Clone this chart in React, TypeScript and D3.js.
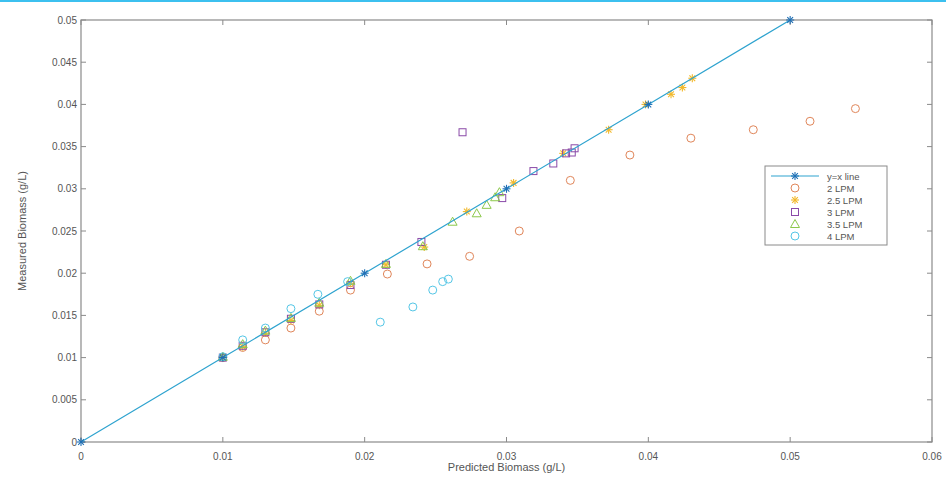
import React from "react";
import { scaleLinear, line } from "d3";

// ---- data ----
const xTicks = [0, 0.01, 0.02, 0.03, 0.04, 0.05, 0.06];
const yTicks = [0, 0.005, 0.01, 0.015, 0.02, 0.025, 0.03, 0.035, 0.04, 0.045, 0.05];
const xTickLabels = ["0", "0.01", "0.02", "0.03", "0.04", "0.05", "0.06"];
const yTickLabels = ["0", "0.005", "0.01", "0.015", "0.02", "0.025", "0.03", "0.035", "0.04", "0.045", "0.05"];

const identity = [0, 0.01, 0.02, 0.03, 0.04, 0.05];

const lpm2 = [
  [0.01, 0.01], [0.0114, 0.0112], [0.013, 0.0121], [0.0148, 0.0135], [0.0168, 0.0155],
  [0.019, 0.018], [0.0216, 0.0199], [0.0244, 0.0211], [0.0274, 0.022], [0.0309, 0.025],
  [0.0345, 0.031], [0.0387, 0.034], [0.043, 0.036], [0.0474, 0.037], [0.0514, 0.038],
  [0.0546, 0.0395],
];
const lpm25 = [
  [0.01, 0.01], [0.0114, 0.0113], [0.013, 0.0129], [0.0148, 0.0144], [0.0168, 0.0162],
  [0.019, 0.0188], [0.0215, 0.021], [0.0242, 0.0231], [0.0272, 0.0273], [0.0305, 0.0307],
  [0.034, 0.0342], [0.0372, 0.037], [0.0398, 0.04], [0.0416, 0.0412], [0.0424, 0.042],
  [0.0431, 0.0431],
];
const lpm3 = [
  [0.01, 0.01], [0.0114, 0.0114], [0.013, 0.013], [0.0148, 0.0146], [0.0168, 0.0163],
  [0.019, 0.0186], [0.0215, 0.021], [0.024, 0.0237], [0.0269, 0.0367], [0.0297, 0.0289],
  [0.0319, 0.0321], [0.0333, 0.033], [0.0342, 0.0342], [0.0346, 0.0343], [0.0348, 0.0348],
];
const lpm35 = [
  [0.01, 0.0101], [0.0114, 0.0116], [0.013, 0.0132], [0.0148, 0.0147], [0.0168, 0.0165],
  [0.019, 0.0191], [0.0215, 0.0211], [0.0241, 0.0232], [0.0262, 0.0261], [0.0279, 0.0271],
  [0.0286, 0.0281], [0.0292, 0.029], [0.0295, 0.0296],
];
const lpm4 = [
  [0.01, 0.0101], [0.0114, 0.0121], [0.013, 0.0135], [0.0148, 0.0158], [0.0167, 0.0175],
  [0.0188, 0.019], [0.0211, 0.0142], [0.0234, 0.016], [0.0248, 0.018], [0.0255, 0.019],
  [0.0259, 0.0193],
];

const legendLabels = ["y=x line", "2 LPM", "2.5 LPM", "3 LPM", "3.5 LPM", "4 LPM"];

////
const W = 946;
const H = 478;
const FONT = "'Liberation Sans', Arial, sans-serif";
const C = {
  frame: "#8a8a8a",
  text: "#555",
  line: "#2ea3cf",
  star: "#1f6fb5",
  o2: "#e0865a",
  s25: "#f2b82a",
  sq3: "#8a4aa8",
  tri35: "#8cc84a",
  o4: "#54c6e6",
};

const x = scaleLinear().domain([0, 0.06]).range([81, 932]);
const y = scaleLinear().domain([0, 0.05]).range([442, 20]);

// marker shapes
const Star = ({ cx, cy, color, r = 4 }) => (
  <g stroke={color} strokeWidth={1.1}>
    <line x1={cx - r} y1={cy} x2={cx + r} y2={cy} />
    <line x1={cx} y1={cy - r} x2={cx} y2={cy + r} />
    <line x1={cx - r * 0.72} y1={cy - r * 0.72} x2={cx + r * 0.72} y2={cy + r * 0.72} />
    <line x1={cx - r * 0.72} y1={cy + r * 0.72} x2={cx + r * 0.72} y2={cy - r * 0.72} />
  </g>
);
const Circle = ({ cx, cy, color }) => (
  <circle cx={cx} cy={cy} r={4} fill="none" stroke={color} strokeWidth={1} />
);
const Square = ({ cx, cy, color }) => (
  <rect x={cx - 3.5} y={cy - 3.5} width={7} height={7} fill="none" stroke={color} strokeWidth={1} />
);
const Tri = ({ cx, cy, color }) => (
  <path d={`M${cx},${cy - 4.5}L${cx + 4.5},${cy + 3.5}L${cx - 4.5},${cy + 3.5}Z`} fill="none" stroke={color} strokeWidth={1} />
);

const series = [
  { data: lpm2, M: Circle, color: C.o2 },
  { data: lpm25, M: Star, color: C.s25 },
  { data: lpm3, M: Square, color: C.sq3 },
  { data: lpm35, M: Tri, color: C.tri35 },
  { data: lpm4, M: Circle, color: C.o4 },
];

export default function App() {
  const idPath = line()
    .x((d) => x(d))
    .y((d) => y(d))(identity);
  const lx = 765;
  const ly = 166;
  return (
    <svg width={W} height={H} style={{ display: "block", position: "absolute", left: 0, top: 0 }} fontFamily={FONT}>
      <rect width={W} height={H} fill="#fff" />
      <line x1={0} x2={W} y1={1} y2={1} stroke="#3cc0ef" strokeWidth={2} />

      {/* frame */}
      <rect x={x(0)} y={y(0.05)} width={x(0.06) - x(0)} height={y(0) - y(0.05)} fill="none" stroke={C.frame} strokeWidth={1.2} />

      {/* ticks */}
      {xTicks.map((t, i) => (
        <g key={"x" + i}>
          <line x1={x(t)} x2={x(t)} y1={y(0)} y2={y(0) - 5} stroke={C.frame} />
          <line x1={x(t)} x2={x(t)} y1={y(0.05)} y2={y(0.05) + 5} stroke={C.frame} />
          <text x={x(t)} y={y(0) + 18} fontSize={10} fill={C.text} textAnchor="middle">
            {xTickLabels[i]}
          </text>
        </g>
      ))}
      {yTicks.map((t, i) => (
        <g key={"y" + i}>
          <line x1={x(0)} x2={x(0) + 5} y1={y(t)} y2={y(t)} stroke={C.frame} />
          <line x1={x(0.06)} x2={x(0.06) - 5} y1={y(t)} y2={y(t)} stroke={C.frame} />
          <text x={x(0) - 4} y={y(t) + 3.5} fontSize={10} fill={C.text} textAnchor="end">
            {yTickLabels[i]}
          </text>
        </g>
      ))}

      {/* axis titles */}
      <text x={(x(0) + x(0.06)) / 2} y={471} fontSize={11} fill={C.text} textAnchor="middle">
        Predicted Biomass (g/L)
      </text>
      <text transform={`translate(26,${(y(0) + y(0.05)) / 2}) rotate(-90)`} fontSize={11} fill={C.text} textAnchor="middle">
        Measured Biomass (g/L)
      </text>

      {/* series */}
      {series.map((s, si) => (
        <g key={"s" + si}>
          {s.data.map((d, i) => (
            <s.M key={i} cx={x(d[0])} cy={y(d[1])} color={s.color} />
          ))}
        </g>
      ))}

      {/* y = x */}
      <path d={idPath} fill="none" stroke={C.line} strokeWidth={1.2} />
      {identity.map((v, i) => (
        <Star key={"id" + i} cx={x(v)} cy={y(v)} color={C.star} />
      ))}

      {/* legend */}
      <rect x={lx} y={ly} width={122} height={79} fill="#fff" stroke={C.frame} strokeWidth={1} />
      {legendLabels.map((lab, i) => {
        const cy = ly + 10 + i * 12;
        const cx = lx + 30;
        let marker;
        if (i === 0) {
          marker = (
            <g>
              <line x1={lx + 6} x2={lx + 54} y1={cy} y2={cy} stroke={C.line} strokeWidth={1.2} />
              <Star cx={cx} cy={cy} color={C.star} />
            </g>
          );
        } else {
          const s = series[i - 1];
          marker = <s.M cx={cx} cy={cy} color={s.color} />;
        }
        return (
          <g key={"l" + i}>
            {marker}
            <text x={lx + 62} y={cy + 3.5} fontSize={9.5} fill={C.text}>
              {lab}
            </text>
          </g>
        );
      })}
    </svg>
  );
}
